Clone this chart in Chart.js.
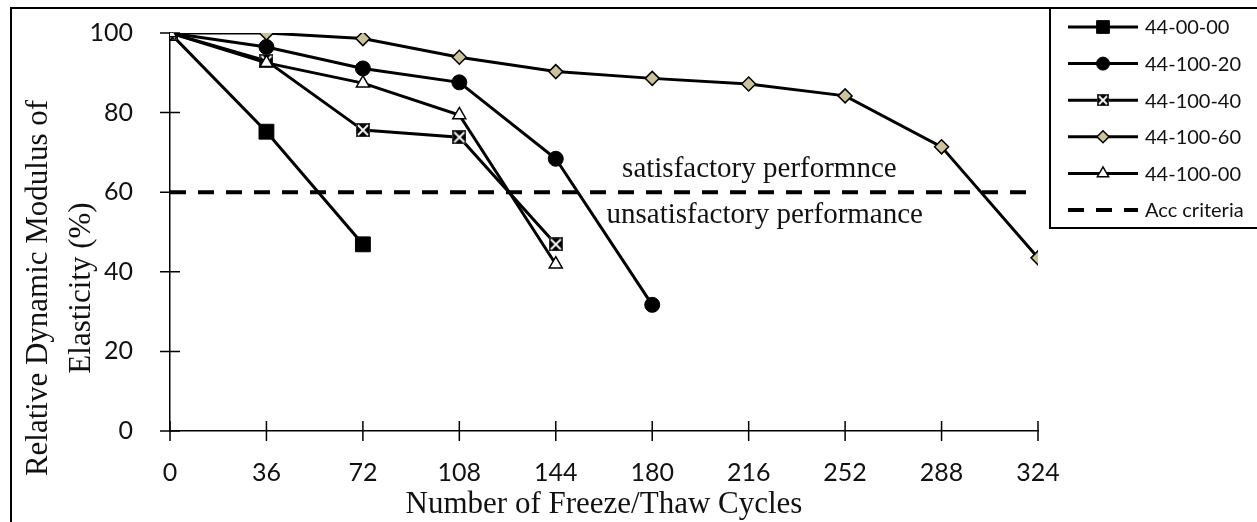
<!DOCTYPE html>
<html><head><meta charset="utf-8">
<script src="https://cdn.jsdelivr.net/npm/chart.js@4/dist/chart.umd.min.js"></script>
<style>html,body{margin:0;padding:0;background:#fff;overflow:hidden}
#wrap{position:relative;width:1257px;height:522px}
</style></head>
<body><div id="wrap"><canvas id="c" width="1257" height="522"></canvas></div>
<script>
// ---- data ----
const cycles = [0, 36, 72, 108, 144, 180, 216, 252, 288, 324];
const s44_00_00  = [100, 75.2, 46.9];
const s44_100_20 = [100, 96.5, 91.1, 87.6, 68.4, 31.7];
const s44_100_40 = [100, 93.0, 75.6, 73.8, 46.9];
const s44_100_60 = [100, 100, 98.6, 93.9, 90.3, 88.6, 87.2, 84.2, 71.4, 43.5];
const s44_100_00 = [100, 92.5, 87.4, 79.4, 41.9];
const accCriteria = 60;
const seriesNames = ['44-00-00', '44-100-20', '44-100-40', '44-100-60', '44-100-00'];
const accName = 'Acc criteria';
const yTickValues = [0, 20, 40, 60, 80, 100];
const xTitle = 'Number of Freeze/Thaw Cycles';
const yTitle = ['Relative Dynamic Modulus of', 'Elasticity (%)'];
const noteAbove = 'satisfactory performnce';
const noteBelow = 'unsatisfactory performance';

// ---- styles ----
function xMarker(size) {
  const c = document.createElement('canvas');
  c.width = size; c.height = size;
  const g = c.getContext('2d');
  g.fillStyle = '#000'; g.fillRect(0, 0, size, size);
  g.strokeStyle = '#fff'; g.lineWidth = 1.8;
  g.beginPath();
  g.moveTo(2, 2); g.lineTo(size - 2, size - 2);
  g.moveTo(size - 2, 2); g.lineTo(2, size - 2);
  g.stroke();
  g.strokeStyle = '#333'; g.lineWidth = 1; g.strokeRect(0.5, 0.5, size - 1, size - 1);
  return c;
}
const styles = [
  {pointStyle: 'rect', radius: 10.5, lradius: 9, bg: '#000', bc: '#000', bw: 1},
  {pointStyle: 'circle', radius: 7.5, lradius: 6.5, bg: '#000', bc: '#000', bw: 1},
  {pointStyle: xMarker(14), lpointStyle: xMarker(12), radius: 7, lradius: 6, bg: '#000', bc: '#000', bw: 1},
  {pointStyle: 'rectRot', radius: 7, lradius: 6, bg: '#CBC39D', bc: '#000', bw: 1.5},
  {pointStyle: 'triangle', radius: 7.5, lradius: 6.5, bg: '#fff', bc: '#000', bw: 1.5}
];
const seriesValues = [s44_00_00, s44_100_20, s44_100_40, s44_100_60, s44_100_00];

const datasets = seriesValues.map((vals, i) => ({
  label: seriesNames[i],
  data: vals.map((v, k) => ({x: cycles[k], y: v})),
  borderColor: '#000',
  borderWidth: 3,
  pointStyle: styles[i].pointStyle,
  pointRadius: styles[i].radius,
  pointHoverRadius: styles[i].radius,
  pointBackgroundColor: styles[i].bg,
  pointBorderColor: styles[i].bc,
  pointBorderWidth: styles[i].bw,
  legendStyle: styles[i].lpointStyle || styles[i].pointStyle,
  legendRadius: styles[i].lradius,
  tension: 0,
  order: 10 - i
}));
datasets.push({
  label: accName,
  data: [{x: cycles[0], y: accCriteria}, {x: cycles[cycles.length - 1], y: accCriteria}],
  borderColor: '#000',
  borderWidth: 4,
  borderDash: [16, 12],
  pointRadius: 0,
  order: 20
});

const SANS = "Lato, 'Open Sans', sans-serif";
const SERIF = "'Liberation Serif', 'DejaVu Serif', serif";

const decor = {
  id: 'decor',
  beforeDatasetsDraw(chart) {
    const {ctx, scales: {x, y}} = chart;
    ctx.save();
    ctx.strokeStyle = '#000'; ctx.lineWidth = 1.5;
    ctx.beginPath();
    x.ticks.forEach(t => { const px = x.getPixelForValue(t.value); ctx.moveTo(px, x.top - 10); ctx.lineTo(px, x.top + 10); });
    y.ticks.forEach(t => { const py = y.getPixelForValue(t.value); ctx.moveTo(y.right - 10, py); ctx.lineTo(y.right + 10, py); });
    ctx.stroke();
    // notes
    ctx.fillStyle = '#111';
    ctx.font = '29px ' + SERIF;
    ctx.textAlign = 'center'; ctx.textBaseline = 'alphabetic';
    const ny = y.getPixelForValue(accCriteria);
    ctx.fillText(noteAbove, x.getPixelForValue(220), ny - 15);
    ctx.fillText(noteBelow, x.getPixelForValue(222), ny + 31);
    ctx.restore();
  },
  afterDraw(chart) {
    const {ctx, scales: {x, y}} = chart;
    ctx.save();
    // outer frame
    ctx.strokeStyle = '#000'; ctx.lineWidth = 2;
    ctx.strokeRect(11, 8, 1260, 530);
    // axis titles
    ctx.fillStyle = '#111';
    ctx.font = '31px ' + SERIF;
    ctx.textAlign = 'center'; ctx.textBaseline = 'alphabetic';
    ctx.fillText(xTitle, (x.left + x.right) / 2, 513);
    ctx.save();
    ctx.translate(0, 288);
    ctx.rotate(-Math.PI / 2);
    ctx.textBaseline = 'middle';
    ctx.fillText(yTitle[0], 0, 39);
    ctx.fillText(yTitle[1], 0, 82);
    ctx.restore();
    // legend
    ctx.lineWidth = 2;
    ctx.strokeRect(1050, 8, 220, 220);
    chart.data.datasets.forEach((ds, i) => {
      const cy = 27 + i * 36.6;
      ctx.beginPath();
      ctx.setLineDash(ds.borderDash || []);
      ctx.lineWidth = ds.borderWidth;
      ctx.strokeStyle = '#000';
      ctx.moveTo(1068, cy); ctx.lineTo(1138, cy);
      ctx.stroke();
      ctx.setLineDash([]);
      if (ds.pointRadius > 0) {
        ctx.fillStyle = ds.pointBackgroundColor;
        ctx.strokeStyle = ds.pointBorderColor;
        ctx.lineWidth = ds.pointBorderWidth;
        Chart.helpers.drawPoint(ctx, {pointStyle: ds.legendStyle, radius: ds.legendRadius, borderWidth: ds.pointBorderWidth, rotation: 0}, 1103, cy);
      }
      ctx.fillStyle = '#111';
      ctx.font = '20px ' + SANS;
      ctx.textAlign = 'left'; ctx.textBaseline = 'middle';
      ctx.fillText(ds.label, 1145, cy + 1);
    });
    ctx.restore();
  }
};

new Chart(document.getElementById('c'), {
  type: 'line',
  data: {datasets},
  options: {
    responsive: false,
    animation: false,
    events: [],
    layout: {padding: {top: 33, right: 219, left: 0, bottom: 0}},
    plugins: {legend: {display: false}, tooltip: {enabled: false}},
    scales: {
      x: {
        type: 'linear', min: cycles[0], max: cycles[cycles.length - 1],
        afterBuildTicks: s => { s.ticks = cycles.map(v => ({value: v})); },
        afterFit: s => { s.height = 91; s.paddingLeft = 0; s.paddingRight = 0; },
        grid: {display: false, drawTicks: false},
        border: {display: true, color: '#000', width: 1.5},
        ticks: {color: '#111', font: {family: SANS, size: 25}, padding: 27, maxRotation: 0, autoSkip: false}
      },
      y: {
        type: 'linear', min: yTickValues[0], max: yTickValues[yTickValues.length - 1],
        afterBuildTicks: s => { s.ticks = yTickValues.map(v => ({value: v})); },
        afterFit: s => { s.width = 170; s.paddingTop = 0; s.paddingBottom = 0; },
        grid: {display: false, drawTicks: false},
        border: {display: true, color: '#000', width: 1.5},
        ticks: {color: '#111', font: {family: SANS, size: 25}, padding: 37}
      }
    }
  },
  plugins: [decor]
});
</script>
</body></html>
